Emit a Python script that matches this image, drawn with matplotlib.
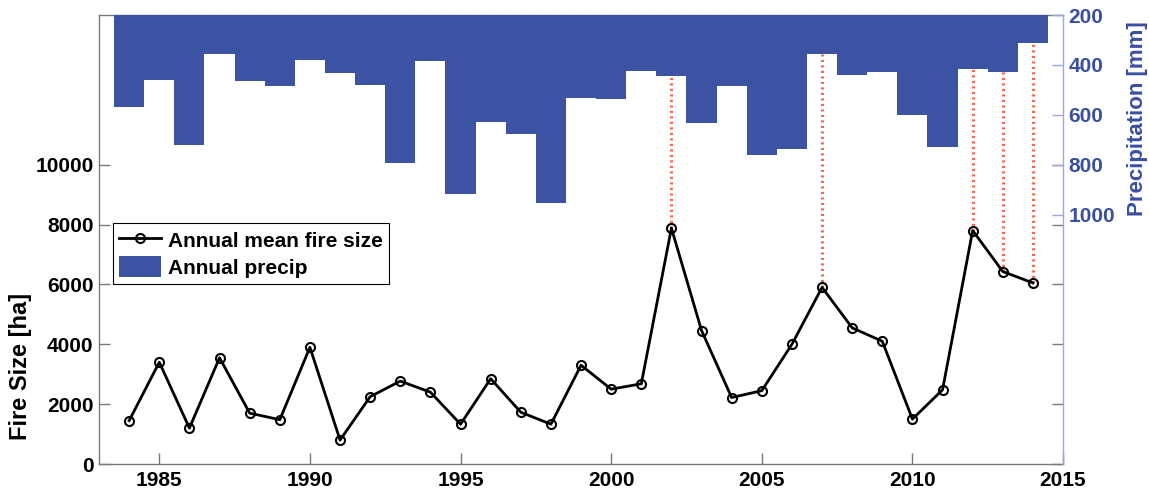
import matplotlib
matplotlib.use("Agg")
import matplotlib.pyplot as plt
from matplotlib.patches import Patch
from matplotlib.lines import Line2D

plt.rcParams['font.family'] = ['Liberation Sans', 'DejaVu Sans']
plt.rcParams['font.weight'] = 'bold'

years = list(range(1984, 2015))
fire_size = [1450, 3400, 1200, 3550, 1700, 1480, 3900, 800, 2250, 2770,
             2400, 1330, 2850, 1730, 1330, 3300, 2500, 2680, 7880, 4460,
             2220, 2450, 4000, 5900, 4550, 4100, 1500, 2480, 7800, 6430,
             6050]
precip = [567, 462, 721, 355, 464, 486, 380, 432, 479, 792,
          383, 917, 629, 675, 955, 531, 538, 423, 443, 631,
          483, 760, 737, 355, 439, 428, 602, 729, 418, 428,
          312]
highlight_years = [2002, 2007, 2012, 2013, 2014]

x_ticks = [1985, 1990, 1995, 2000, 2005, 2010, 2015]
fire_ticks = [0, 2000, 4000, 6000, 8000, 10000]
precip_ticks = [200, 400, 600, 800, 1000]

BAR_BLUE = '#3c53a4'
LABEL_BLUE = '#3a4ea0'
SPINE_BLUE = '#9ea6e4'
GREY = '#7a7a7a'
RED = '#f66a55'

FIRE_MAX = 15000
P_TOP, P_BOTTOM = 200, 2000

fig = plt.figure(figsize=(11.49, 4.94), dpi=100)
ax = fig.add_axes([0.0862, 0.0607, 0.8390, 0.9089])
ax2 = ax.twinx()

# Fire size series (left axis)
ax.plot(years, fire_size, color='black', lw=2.0, marker='o', ms=6.5,
        mfc='none', mec='black', mew=1.5, zorder=3)

# Red guide lines from the fire peaks up to the precipitation bars
for yr in highlight_years:
    i = years.index(yr)
    top = FIRE_MAX * (P_BOTTOM - precip[i]) / (P_BOTTOM - P_TOP)
    ax.plot([yr, yr], [fire_size[i], top], color=RED, lw=2.2,
            linestyle=(0, (0.7, 1.1)), zorder=2)

ax.set_xlim(1983, 2015)
ax.set_ylim(0, FIRE_MAX)
ax.set_xticks(x_ticks)
ax.set_yticks(fire_ticks)
ax.tick_params(axis='both', direction='in', length=8, width=1.0,
               color=GREY, labelsize=15, pad=5)
ax.tick_params(axis='y', right=True, pad=4)
for lab in ax.get_xticklabels() + ax.get_yticklabels():
    lab.set_fontweight('bold')
for side in ['left', 'bottom', 'top']:
    ax.spines[side].set_color(GREY)
    ax.spines[side].set_linewidth(1.0)
ax.spines['right'].set_visible(False)

ax.set_ylabel('Fire Size [ha]', fontsize=17, fontweight='bold')
ax.yaxis.set_label_coords(-0.070, 0.218)

# Precipitation bars hanging from the top (right axis, inverted)
ax2.bar(years, [p - P_TOP for p in precip], bottom=P_TOP, width=1.0,
        color=BAR_BLUE, edgecolor='none', zorder=1)
ax2.set_ylim(P_BOTTOM, P_TOP)
ax2.set_yticks(precip_ticks)
ax2.tick_params(axis='y', direction='in', length=8, width=1.0,
                color=SPINE_BLUE, labelcolor=LABEL_BLUE, labelsize=15, pad=4)
for lab in ax2.get_yticklabels():
    lab.set_fontweight('bold')
for side in ['left', 'bottom', 'top']:
    ax2.spines[side].set_visible(False)
ax2.spines['right'].set_color(SPINE_BLUE)
ax2.spines['right'].set_linewidth(1.0)
ax2.set_ylabel('Precipitation [mm]', fontsize=16, fontweight='bold',
               color=LABEL_BLUE)
ax2.yaxis.set_label_coords(1.0664, 0.77)

handles = [
    Line2D([], [], color='black', lw=2.0, marker='o', ms=6.5, mfc='none',
           mec='black', mew=1.5),
    Patch(facecolor=BAR_BLUE, edgecolor='none'),
]
leg = ax2.legend(handles, ['Annual mean fire size', 'Annual precip'],
                 loc='upper left', bbox_to_anchor=(0.0145, 0.537),
                 borderaxespad=0, fancybox=False, framealpha=1,
                 edgecolor='black', prop={'size': 15, 'weight': 'bold'},
                 handlelength=2.0, handleheight=1.2, handletextpad=0.35,
                 labelspacing=0.25, borderpad=0.3)
leg.get_frame().set_linewidth(0.8)
leg.set_zorder(5)

fig.savefig('out.png', dpi=100)
